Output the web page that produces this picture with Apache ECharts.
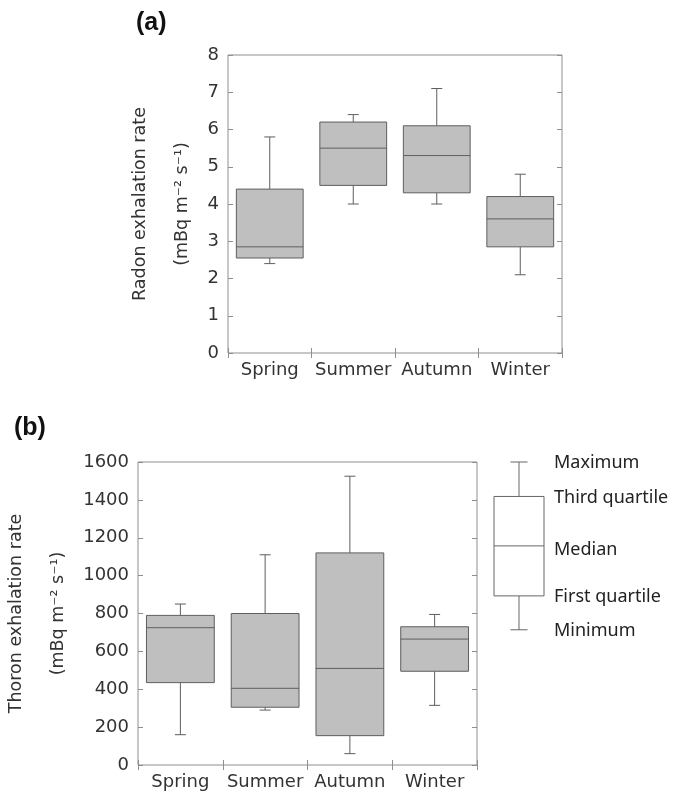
<!DOCTYPE html>
<html><head><meta charset="utf-8">
<script src="https://cdn.jsdelivr.net/npm/echarts@6/dist/echarts.min.js"></script>
<style>html,body{margin:0;padding:0;background:#fff}#c{width:681px;height:802px}</style>
</head><body><div id="c"></div>
<script>
// ---- data ----
const seasons = ['Spring', 'Summer', 'Autumn', 'Winter'];
// [min, Q1, median, Q3, max]
const radonStats = [
  [2.4, 2.55, 2.85, 4.4, 5.8],
  [4.0, 4.5, 5.5, 6.2, 6.4],
  [4.0, 4.3, 5.3, 6.1, 7.1],
  [2.1, 2.85, 3.6, 4.2, 4.8]
];
const thoronStats = [
  [160, 435, 725, 790, 850],
  [290, 305, 405, 800, 1110],
  [60, 155, 510, 1120, 1525],
  [315, 495, 665, 730, 795]
];
const keyStats = [714, 893, 1157, 1418, 1600];
const keyLabels = ['Minimum', 'First quartile', 'Median', 'Third quartile', 'Maximum'];
const radonTicks = { min: 0, max: 8, interval: 1 };
const thoronTicks = { min: 0, max: 1600, interval: 200 };

// ---- styling ----
const FONT = 'DejaVu Sans';
const FRAME = '#8f8f8f';
const LABEL = '#333333';

function boxRenderer(widthRatio, capPx, fill, stroke, withLabels) {
  return function (params, api) {
    const x = api.value(0);
    const v = [api.value(1), api.value(2), api.value(3), api.value(4), api.value(5)];
    const p = v.map(val => api.coord([x, val]));
    const cx = p[0][0];
    const bw = api.size([1, 0])[0] * widthRatio;
    const half = bw / 2;
    const ln = (x1, y1, x2, y2, c) => ({ type: 'line', shape: { x1, y1, x2, y2 }, style: { stroke: c || stroke, lineWidth: 1 } });
    const children = [
      ln(cx, p[3][1], cx, p[4][1]),
      ln(cx, p[1][1], cx, p[0][1]),
      ln(cx - capPx / 2, p[4][1], cx + capPx / 2, p[4][1]),
      ln(cx - capPx / 2, p[0][1], cx + capPx / 2, p[0][1]),
      { type: 'rect', shape: { x: cx - half, y: p[3][1], width: bw, height: p[1][1] - p[3][1] },
        style: { fill: fill, stroke: stroke, lineWidth: 1 } },
      ln(cx - half, p[2][1], cx + half, p[2][1])
    ];
    if (withLabels) {
      keyLabels.forEach((t, i) => {
        children.push({ type: 'text', x: cx + half + 10, y: p[i][1] + (i === 2 ? 4 : 1),
          style: { text: t, fill: '#222', font: '18px "Noto Sans"', textVerticalAlign: 'middle', textAlign: 'left' } });
      });
    }
    return { type: 'group', children };
  };
}

function rows(stats) { return stats.map((s, i) => [i].concat(s)); }

function catAxis(grid, pos, showLabel) {
  return {
    type: 'category', gridIndex: grid, data: seasons, position: pos,
    axisLine: { show: false },
    axisTick: { show: true, inside: true, interval: 0, length: 5, lineStyle: { color: FRAME } },
    axisLabel: { show: showLabel, interval: 0, color: LABEL, fontFamily: FONT, fontSize: 18, margin: 8 },
    splitLine: { show: false }
  };
}
function valAxis(grid, pos, ticks, showLabel, name, gap) {
  return {
    type: 'value', gridIndex: grid, position: pos, min: ticks.min, max: ticks.max, interval: ticks.interval,
    axisLine: { show: false },
    axisTick: { show: true, inside: true, length: 5, lineStyle: { color: FRAME } },
    axisLabel: { show: showLabel, color: LABEL, fontFamily: FONT, fontSize: 18, margin: 9,
      formatter: function (v) { return String(v); } },
    splitLine: { show: false },
    name: name || '', nameLocation: 'middle', nameRotate: 90, nameGap: gap || 0,
    nameTextStyle: { color: LABEL, fontFamily: FONT, fontSize: 17.5, lineHeight: 42 }
  };
}

const chart = echarts.init(document.getElementById('c'), null, { renderer: 'canvas' });
chart.setOption({
  backgroundColor: '#fff',
  animation: false,
  title: [
    { text: '(a)', left: 131, top: 6, textStyle: { fontFamily: 'Liberation Sans', fontWeight: 'bold', fontSize: 25, color: '#111' } },
    { text: '(b)', left: 9, top: 411, textStyle: { fontFamily: 'Liberation Sans', fontWeight: 'bold', fontSize: 25, color: '#111' } }
  ],
  grid: [
    { left: 228, top: 55, width: 334, height: 298, show: true, borderColor: FRAME, borderWidth: 1,
      backgroundColor: 'transparent', containLabel: false, outerBoundsMode: 'none' },
    { left: 138, top: 462, width: 339, height: 303, show: true, borderColor: FRAME, borderWidth: 1,
      backgroundColor: 'transparent', containLabel: false, outerBoundsMode: 'none' },
    { left: 494, top: 462, width: 50, height: 303, show: false, containLabel: false, outerBoundsMode: 'none' }
  ],
  xAxis: [
    catAxis(0, 'bottom', true),
    catAxis(0, 'top', false),
    catAxis(1, 'bottom', true),
    catAxis(1, 'top', false),
    { type: 'category', gridIndex: 2, data: ['key'], show: false }
  ],
  yAxis: [
    valAxis(0, 'left', radonTicks, true, 'Radon exhalation rate\n(mBq m\u207B\u00B2 s\u207B\u00B9)', 25),
    valAxis(0, 'right', radonTicks, false),
    valAxis(1, 'left', thoronTicks, true, 'Thoron exhalation rate\n(mBq m\u207B\u00B2 s\u207B\u00B9)', 58),
    valAxis(1, 'right', thoronTicks, false),
    { type: 'value', gridIndex: 2, min: thoronTicks.min, max: thoronTicks.max, show: false }
  ],
  series: [
    { type: 'custom', xAxisIndex: 0, yAxisIndex: 0, data: rows(radonStats),
      encode: { x: 0, y: [1, 2, 3, 4, 5] }, renderItem: boxRenderer(0.8, 11, '#bfbfbf', '#5e5e5e', false) },
    { type: 'custom', xAxisIndex: 2, yAxisIndex: 2, data: rows(thoronStats),
      encode: { x: 0, y: [1, 2, 3, 4, 5] }, renderItem: boxRenderer(0.8, 11, '#bfbfbf', '#5e5e5e', false) },
    { type: 'custom', xAxisIndex: 4, yAxisIndex: 4, data: [[0].concat(keyStats)],
      encode: { x: 0, y: [1, 2, 3, 4, 5] }, clip: false, renderItem: boxRenderer(1.0, 17, '#ffffff', '#666666', true) }
  ]
});
</script>
</body></html>
